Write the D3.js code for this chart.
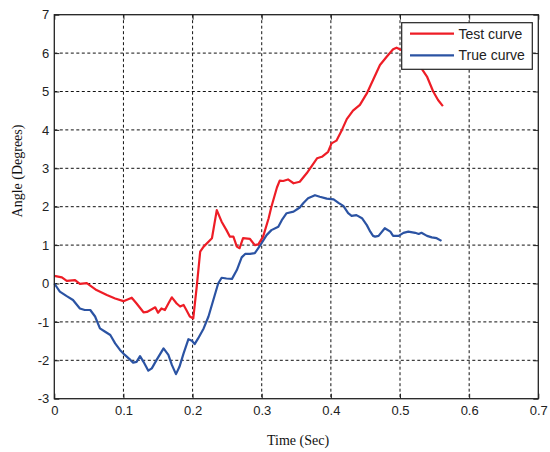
<!DOCTYPE html>
<html>
<head>
<meta charset="utf-8">
<script src="https://cdn.jsdelivr.net/npm/d3@7"></script>
<style>
  html, body { margin: 0; padding: 0; background: #fff; }
  svg { display: block; }
</style>
</head>
<body>
<svg id="chart" width="550" height="452"></svg>
<script>
// ---- data ----
const testT = [0, 0.011, 0.018, 0.03, 0.037, 0.047, 0.061, 0.076, 0.088, 0.1, 0.112, 0.119, 0.129, 0.134, 0.141, 0.146, 0.15, 0.155, 0.16, 0.165, 0.17, 0.177, 0.182, 0.187, 0.191, 0.196, 0.201, 0.206, 0.211, 0.216, 0.223, 0.228, 0.235, 0.242, 0.249, 0.254, 0.259, 0.264, 0.268, 0.273, 0.283, 0.29, 0.295, 0.302, 0.31, 0.314, 0.322, 0.326, 0.331, 0.338, 0.346, 0.355, 0.365, 0.38, 0.387, 0.396, 0.401, 0.408, 0.416, 0.423, 0.432, 0.442, 0.452, 0.461, 0.471, 0.481, 0.49, 0.495, 0.502, 0.512, 0.522, 0.531, 0.539, 0.548, 0.555, 0.562];
const testV = [0.2, 0.16, 0.07, 0.09, -0.01, 0.01, -0.17, -0.3, -0.39, -0.46, -0.37, -0.52, -0.75, -0.74, -0.67, -0.62, -0.76, -0.65, -0.69, -0.52, -0.36, -0.52, -0.6, -0.56, -0.69, -0.86, -0.91, -0.08, 0.83, 0.96, 1.09, 1.18, 1.91, 1.61, 1.39, 1.22, 1.22, 0.96, 0.92, 1.18, 1.16, 1.0, 1.02, 1.22, 1.7, 2.0, 2.5, 2.68, 2.67, 2.71, 2.61, 2.65, 2.87, 3.26, 3.3, 3.43, 3.65, 3.72, 4.0, 4.28, 4.5, 4.65, 4.95, 5.3, 5.69, 5.91, 6.1, 6.14, 6.08, 5.95, 5.8, 5.6, 5.39, 5.0, 4.78, 4.62];

const trueT = [0, 0.008, 0.018, 0.027, 0.037, 0.044, 0.052, 0.059, 0.066, 0.073, 0.081, 0.088, 0.095, 0.102, 0.11, 0.114, 0.119, 0.124, 0.129, 0.136, 0.141, 0.148, 0.158, 0.165, 0.17, 0.176, 0.181, 0.187, 0.194, 0.199, 0.203, 0.208, 0.216, 0.223, 0.23, 0.237, 0.242, 0.249, 0.257, 0.264, 0.271, 0.276, 0.283, 0.29, 0.298, 0.307, 0.314, 0.324, 0.329, 0.336, 0.346, 0.355, 0.36, 0.367, 0.377, 0.384, 0.394, 0.404, 0.411, 0.418, 0.425, 0.43, 0.437, 0.445, 0.452, 0.457, 0.461, 0.464, 0.469, 0.478, 0.486, 0.49, 0.498, 0.505, 0.512, 0.522, 0.527, 0.531, 0.539, 0.546, 0.553, 0.56];
const trueV = [0, -0.21, -0.33, -0.43, -0.65, -0.69, -0.69, -0.86, -1.17, -1.25, -1.34, -1.56, -1.73, -1.86, -1.99, -2.06, -2.04, -1.89, -2.04, -2.27, -2.21, -1.99, -1.69, -1.86, -2.12, -2.36, -2.17, -1.82, -1.45, -1.49, -1.58, -1.43, -1.17, -0.86, -0.43, 0, 0.15, 0.13, 0.12, 0.35, 0.68, 0.77, 0.77, 0.79, 1.0, 1.26, 1.39, 1.48, 1.65, 1.83, 1.87, 1.98, 2.09, 2.22, 2.3, 2.26, 2.21, 2.19, 2.1, 2.02, 1.83, 1.76, 1.78, 1.7, 1.52, 1.35, 1.24, 1.22, 1.24, 1.44, 1.35, 1.24, 1.24, 1.32, 1.35, 1.32, 1.29, 1.32, 1.24, 1.2, 1.18, 1.11];

const xTicks = [0, 0.1, 0.2, 0.3, 0.4, 0.5, 0.6, 0.7];
const xTickLabels = ["0", "0.1", "0.2", "0.3", "0.4", "0.5", "0.6", "0.7"];
const yTicks = [-3, -2, -1, 0, 1, 2, 3, 4, 5, 6, 7];
const yTickLabels = ["-3", "-2", "-1", "0", "1", "2", "3", "4", "5", "6", "7"];

const seriesNames = ["Test curve", "True curve"];
const seriesColors = ["#ee1d26", "#2b53a3"];
const xLabel = "Time (Sec)";
const yLabel = "Angle (Degrees)";

// ---- layout ----
const L = 54.3, R = 538.3, T = 14.7, B = 398.7;
const svg = d3.select("#chart");

const x = d3.scaleLinear().domain([0, 0.7]).range([L, R]);
const y = d3.scaleLinear().domain([-3, 7]).range([B, T]);

// grid
const grid = svg.append("g");
grid.selectAll("line.vx").data(xTicks.slice(1, -1)).join("line")
  .attr("x1", d => x(d)).attr("x2", d => x(d))
  .attr("y1", T).attr("y2", B)
  .attr("stroke", "#111").attr("stroke-width", 1).attr("stroke-dasharray", "3,2.5");
grid.selectAll("line.hy").data(yTicks.slice(1, -1)).join("line")
  .attr("y1", d => y(d)).attr("y2", d => y(d))
  .attr("x1", L).attr("x2", R)
  .attr("stroke", "#111").attr("stroke-width", 1).attr("stroke-dasharray", "3,2.5");

// axes (tick labels + small inward ticks)
const xAxis = d3.axisBottom(x).tickValues(xTicks)
  .tickFormat((d, i) => xTickLabels[i]).tickSizeInner(-5).tickSizeOuter(0).tickPadding(7);
const gx = svg.append("g").attr("transform", `translate(0,${B})`).call(xAxis);
gx.select(".domain").remove();
gx.selectAll("text").attr("font-family", "Liberation Sans, Arial, sans-serif").attr("font-size", 13).attr("fill", "#222");
gx.selectAll("line").attr("stroke", "#222");

const yAxis = d3.axisLeft(y).tickValues(yTicks)
  .tickFormat((d, i) => yTickLabels[i]).tickSizeInner(-5).tickSizeOuter(0).tickPadding(5);
const gy = svg.append("g").attr("transform", `translate(${L},0)`).call(yAxis);
gy.select(".domain").remove();
gy.selectAll("text").attr("font-family", "Liberation Sans, Arial, sans-serif").attr("font-size", 13).attr("fill", "#222");
gy.selectAll("line").attr("stroke", "#222");

// right-side and top ticks
const yAxisR = d3.axisRight(y).tickValues(yTicks).tickFormat("").tickSizeInner(-5).tickSizeOuter(0);
const gyr = svg.append("g").attr("transform", `translate(${R},0)`).call(yAxisR);
gyr.select(".domain").remove();
gyr.selectAll("line").attr("stroke", "#222");
const xAxisT = d3.axisTop(x).tickValues(xTicks).tickFormat("").tickSizeInner(-5).tickSizeOuter(0);
const gxt = svg.append("g").attr("transform", `translate(0,${T})`).call(xAxisT);
gxt.select(".domain").remove();
gxt.selectAll("line").attr("stroke", "#222");

// lines
const line = d3.line().x(d => x(d[0])).y(d => y(d[1])).curve(d3.curveLinear);
const testData = testT.map((t, i) => [t, testV[i]]);
const trueData = trueT.map((t, i) => [t, trueV[i]]);
svg.append("path").datum(trueData).attr("d", line)
  .attr("fill", "none").attr("stroke", seriesColors[1]).attr("stroke-width", 2.2).attr("stroke-linejoin", "round");
svg.append("path").datum(testData).attr("d", line)
  .attr("fill", "none").attr("stroke", seriesColors[0]).attr("stroke-width", 2.2).attr("stroke-linejoin", "round");

// frame
svg.append("rect").attr("x", L).attr("y", T).attr("width", R - L).attr("height", B - T)
  .attr("fill", "none").attr("stroke", "#222").attr("stroke-width", 1.3);

// axis labels
svg.append("text").attr("x", 298).attr("y", 445).attr("text-anchor", "middle")
  .attr("font-family", "Liberation Serif, Times New Roman, serif").attr("font-size", 14).attr("fill", "#111")
  .text(xLabel);
svg.append("text").attr("transform", "translate(22,171) rotate(-90)").attr("text-anchor", "middle")
  .attr("font-family", "Liberation Serif, Times New Roman, serif").attr("font-size", 14).attr("fill", "#111")
  .text(yLabel);

// legend
const lg = svg.append("g");
lg.append("rect").attr("x", 401.7).attr("y", 22.7).attr("width", 130.6).attr("height", 46.6)
  .attr("fill", "#fff").attr("stroke", "#222").attr("stroke-width", 1.2);
seriesNames.forEach((name, i) => {
  const ly = 33.7 + i * 21.6;
  lg.append("line").attr("x1", 410).attr("x2", 454).attr("y1", ly).attr("y2", ly)
    .attr("stroke", seriesColors[i]).attr("stroke-width", 2.2);
  lg.append("text").attr("x", 458.5).attr("y", ly).attr("dy", "0.35em")
    .attr("font-family", "Liberation Sans, Arial, sans-serif").attr("font-size", 14).attr("fill", "#222")
    .text(name);
});
</script>
</body>
</html>
